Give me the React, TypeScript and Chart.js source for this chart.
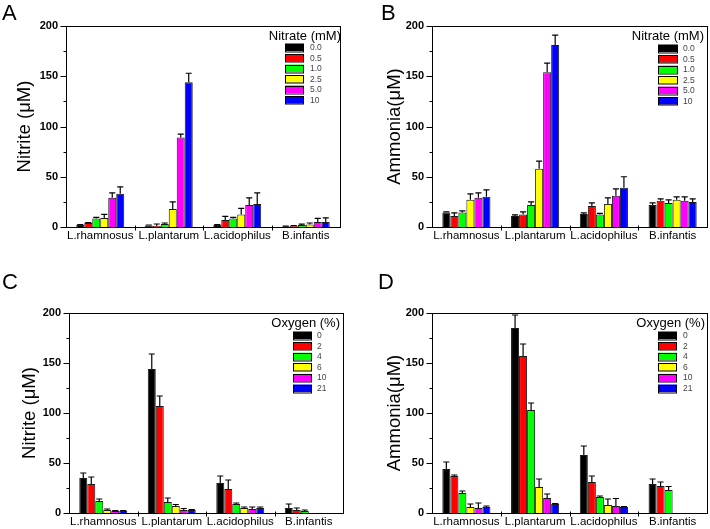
import React, { useEffect, useRef } from 'react';
import { Chart, registerables } from 'chart.js';

Chart.register(...registerables);
Chart.defaults.color = '#000';

const FONT = '"Liberation Sans", Arial, Helvetica, sans-serif';

// ---------- data ----------
const categories = ['L.rhamnosus', 'L.plantarum', 'L.acidophilus', 'B.infantis'];
const nitrateLevels = ['0.0', '0.5', '1.0', '2.5', '5.0', '10'];
const oxygenLevels = ['0', '2', '4', '6', '10', '21'];
const yTicks = [0, 50, 100, 150, 200];

// Panel A: nitrite vs nitrate (rows = nitrate level, cols = strain)
const nitriteNitrateMeans = [
  [2, 1.5, 2, 0.5],
  [4, 1, 7, 1],
  [8.5, 3, 8.5, 2],
  [9, 18, 12.5, 2.5],
  [29, 89, 22, 5],
  [33, 144, 23, 5],
];
const nitriteNitrateErrors = [
  [0.5, 0.5, 0.5, 0.3],
  [0.5, 2, 3.5, 0.5],
  [1, 1, 1, 0.8],
  [3.5, 7, 6, 1.5],
  [5, 3.5, 7, 3.5],
  [7, 9, 11, 4],
];

// Panel B: ammonia vs nitrate
const ammoniaNitrateMeans = [
  [14.5, 11, 13, 22],
  [11, 12.5, 21, 26],
  [14.5, 22, 12.5, 24],
  [27, 58, 23, 27],
  [29, 154, 31, 26],
  [30, 181, 39, 25],
];
const ammoniaNitrateErrors = [
  [0.5, 1, 1, 2],
  [3, 2.5, 3, 2],
  [1.5, 3, 1, 3],
  [6, 7.5, 6, 3],
  [5, 9, 7, 4],
  [7, 10, 11, 3],
];

// Panel C: nitrite vs oxygen
const nitriteOxygenMeans = [
  [35, 144, 30, 5],
  [29, 107, 24, 3],
  [12, 11, 9, 2],
  [3, 7, 5, null],
  [2, 3, 4, null],
  [2, 3, 5, null],
];
const nitriteOxygenErrors = [
  [5, 15, 7, 4],
  [7, 10, 9, 2],
  [2, 4, 1, 1],
  [1, 1.5, 1, 0],
  [0.5, 1.5, 2, 0],
  [0.5, 0.5, 1, 0],
];

// Panel D: ammonia vs oxygen
const ammoniaOxygenMeans = [
  [44, 185, 58, 29],
  [37, 157, 31, 27],
  [20, 103, 16, 23],
  [6, 26, 8, null],
  [5, 15, 7, null],
  [6, 9, 6, null],
];
const ammoniaOxygenErrors = [
  [7, 13, 9, 5],
  [1, 12, 6, 4],
  [2, 7, 1, 3.5],
  [3, 8, 6, 0],
  [5, 4, 7.5, 0],
  [1, 0.5, 0.5, 0],
];

const seriesColors = ['#000000', '#ff0000', '#00ff00', '#ffff00', '#ff00ff', '#0000ff'];

// ---------- decoration plugin ----------
const decorPlugin = {
  id: 'panelDecor',
  afterDatasetsDraw(chart: any, _args: any, opts: any) {
    const { ctx, chartArea: a, scales } = chart;
    const y = scales.y;
    ctx.save();

    // error bars (upper only)
    ctx.strokeStyle = '#000';
    ctx.lineWidth = 1.2;
    chart.data.datasets.forEach((ds: any, di: number) => {
      const meta = chart.getDatasetMeta(di);
      meta.data.forEach((bar: any, i: number) => {
        const v = ds.data[i];
        const e = ds.errors ? ds.errors[i] : 0;
        if (v == null || !e) return;
        const p = bar.getProps(['x', 'y', 'width'], true);
        const top = y.getPixelForValue(v + e);
        const half = p.width * 0.38;
        ctx.beginPath();
        ctx.moveTo(p.x, p.y);
        ctx.lineTo(p.x, top);
        ctx.moveTo(p.x - half, top);
        ctx.lineTo(p.x + half, top);
        ctx.stroke();
      });
    });

    // frame
    ctx.lineWidth = 1;
    ctx.strokeStyle = '#000';
    const L = Math.round(a.left) + 0.5;
    const T = Math.round(a.top) + 0.5;
    const R = Math.round(a.right) + 0.5;
    const B = Math.round(a.bottom) + 0.5;
    ctx.strokeRect(L, T, R - L, B - T);

    // y ticks (major + minor)
    ctx.beginPath();
    for (let v = 0; v <= 200; v += 25) {
      const py = Math.round(y.getPixelForValue(v)) + 0.5;
      const len = v % 50 === 0 ? 6 : 3;
      ctx.moveTo(L - len, py);
      ctx.lineTo(L, py);
    }
    // x ticks at category boundaries
    const n = chart.data.labels.length;
    const w = (a.right - a.left) / n;
    for (let k = 1; k < n; k++) {
      const px = Math.round(a.left + k * w) + 0.5;
      ctx.moveTo(px, B - 2);
      ctx.lineTo(px, B + 3);
    }
    ctx.stroke();

    // legend
    if (opts && opts.title) {
      ctx.fillStyle = '#000';
      ctx.font = `13px ${FONT}`;
      ctx.textAlign = 'right';
      ctx.textBaseline = 'middle';
      ctx.fillText(opts.title, a.right + opts.titleDx, a.top + opts.titleDy);
      ctx.textAlign = 'left';
      ctx.font = `8.5px ${FONT}`;
      chart.data.datasets.forEach((ds: any, di: number) => {
        const sy = a.top + opts.rowTop + di * opts.pitch;
        const sx = a.right + opts.swatchDx;
        ctx.fillStyle = ds.backgroundColor;
        ctx.fillRect(sx, sy, opts.swatchW, opts.swatchH);
        ctx.strokeStyle = '#000';
        ctx.lineWidth = 1;
        ctx.strokeRect(Math.round(sx) + 0.5, Math.round(sy) + 0.5, opts.swatchW - 1, opts.swatchH);
        ctx.fillStyle = '#444';
        ctx.fillText(ds.label, a.right + opts.labelDx, sy + opts.swatchH / 2 + 0.5);
      });
    }
    ctx.restore();
  },
};

type PanelProps = {
  left: number;
  top: number;
  width: number;
  height: number;
  levels: string[];
  means: (number | null)[][];
  errors: number[][];
  yTitle: string;
  legendTitle: string;
  yw: number;
  padTop: number;
  padRight: number;
  xh: number;
  titlePad: number;
  legend: any;
};

function Panel(props: PanelProps) {
  const ref = useRef<HTMLCanvasElement>(null);
  useEffect(() => {
    if (!ref.current) return;
    const datasets = props.levels.map((lvl, i) => ({
      label: lvl,
      data: props.means[i],
      errors: props.errors[i],
      backgroundColor: seriesColors[i],
      borderColor: '#1a1a1a',
      borderWidth: 1,
      borderSkipped: 'bottom',
      categoryPercentage: 0.7,
      barPercentage: 1,
    }));
    const chart = new Chart(ref.current, {
      type: 'bar',
      data: { labels: categories, datasets: datasets as any },
      plugins: [decorPlugin as any],
      options: {
        responsive: false,
        animation: false,
        devicePixelRatio: 1,
        layout: { padding: { top: props.padTop, right: props.padRight, left: 0, bottom: 0 } },
        plugins: {
          legend: { display: false },
          tooltip: { enabled: false },
          panelDecor: { title: props.legendTitle, ...props.legend },
        } as any,
        scales: {
          x: {
            type: 'category',
            offset: true,
            grid: { display: false, drawTicks: false },
            border: { display: false },
            ticks: {
              color: '#000',
              font: { family: FONT, size: 11.5, lineHeight: 1 },
              padding: 3,
              maxRotation: 0,
              autoSkip: false,
            },
            afterFit: (s: any) => {
              s.height = props.xh;
            },
          },
          y: {
            min: 0,
            max: 200,
            afterBuildTicks: (s: any) => {
              s.ticks = yTicks.map((v) => ({ value: v }));
            },
            grid: { display: false, drawTicks: false },
            border: { display: false },
            ticks: {
              color: '#000',
              font: { family: FONT, size: 11, weight: 'bold' },
              padding: 8,
            },
            title: {
              display: true,
              text: props.yTitle,
              color: '#000',
              font: { family: FONT, size: 18.5 },
              padding: { top: props.titlePad, bottom: 0 },
            },
            afterFit: (s: any) => {
              s.width = props.yw;
            },
          },
        },
      } as any,
    });
    return () => chart.destroy();
  }, []);
  return (
    <canvas
      ref={ref}
      width={props.width}
      height={props.height}
      style={{ position: 'absolute', left: props.left, top: props.top, width: props.width, height: props.height }}
    />
  );
}

const letterStyle: React.CSSProperties = {
  position: 'absolute',
  fontFamily: FONT,
  fontSize: 22,
  lineHeight: '22px',
  color: '#000',
};

const legendA = { titleDx: 1, titleDy: 10, swatchDx: -55, swatchW: 19, swatchH: 7.5, rowTop: 17.5, pitch: 10.5, labelDx: -30 };
const legendB = { titleDx: -3, titleDy: 10, swatchDx: -49, swatchW: 20, swatchH: 7.5, rowTop: 18.5, pitch: 10.5, labelDx: -24 };
const legendC = { titleDx: -3, titleDy: 10, swatchDx: -50, swatchW: 19, swatchH: 7.5, rowTop: 18.5, pitch: 10.6, labelDx: -26 };
const legendD = { titleDx: -2, titleDy: 10, swatchDx: -49, swatchW: 19, swatchH: 7.5, rowTop: 18.5, pitch: 10.6, labelDx: -24 };

export default function App() {
  return (
    <div style={{ position: 'absolute', left: 0, top: 0, width: 710, height: 529, background: '#fff', overflow: 'hidden' }}>
      <Panel left={0} top={0} width={355} height={264} levels={nitrateLevels} means={nitriteNitrateMeans} errors={nitriteNitrateErrors}
        yTitle="Nitrite (μM)" legendTitle="Nitrate (mM)" yw={66} padTop={26} padRight={15} xh={37} titlePad={14} legend={legendA} />
      <Panel left={355} top={0} width={355} height={264} levels={nitrateLevels} means={ammoniaNitrateMeans} errors={ammoniaNitrateErrors}
        yTitle="Ammonia(μM)" legendTitle="Nitrate (mM)" yw={77} padTop={26} padRight={3} xh={37} titlePad={29} legend={legendB} />
      <Panel left={0} top={264} width={355} height={265} levels={oxygenLevels} means={nitriteOxygenMeans} errors={nitriteOxygenErrors}
        yTitle="Nitrite (μM)" legendTitle="Oxygen (%)" yw={69} padTop={49} padRight={12} xh={16} titlePad={19} legend={legendC} />
      <Panel left={355} top={264} width={355} height={265} levels={oxygenLevels} means={ammoniaOxygenMeans} errors={ammoniaOxygenErrors}
        yTitle="Ammonia(μM)" legendTitle="Oxygen (%)" yw={77} padTop={49} padRight={3} xh={16} titlePad={29} legend={legendD} />
      <div style={{ ...letterStyle, left: 2, top: 2 }}>A</div>
      <div style={{ ...letterStyle, left: 381, top: 2 }}>B</div>
      <div style={{ ...letterStyle, left: 2, top: 271 }}>C</div>
      <div style={{ ...letterStyle, left: 378, top: 271 }}>D</div>
    </div>
  );
}
